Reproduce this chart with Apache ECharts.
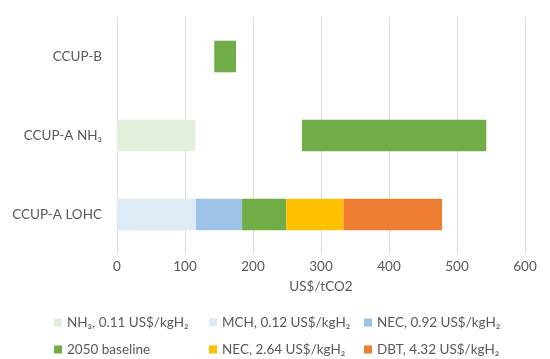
<!DOCTYPE html>
<html><head><meta charset="utf-8">
<script src="https://cdn.jsdelivr.net/npm/echarts@6/dist/echarts.min.js"></script>
<style>html,body{margin:0;padding:0;background:#fff}#c{width:550px;height:359px}</style>
</head><body><div id="c"></div>
<script>
const categories = ['CCUP-A LOHC', 'CCUP-A NH₃', 'CCUP-B'];
const xTicks = [0, 100, 200, 300, 400, 500, 600];
const nh3 = [0, 115, 0];
const mch = [116, 0, 0];
const nec092 = [68, 0, 0];
const gap = [0, 157, 143];
const baseline2050 = [65, 271, 32];
const nec264 = [84, 0, 0];
const dbt = [145, 0, 0];
const seriesNames = ['NH₃, 0.11 US$/kgH₂', 'MCH, 0.12 US$/kgH₂', 'NEC, 0.92 US$/kgH₂', '2050 baseline', 'NEC, 2.64 US$/kgH₂', 'DBT, 4.32 US$/kgH₂'];
const colors = ['#E2EFDA', '#DDEBF7', '#9DC3E6', '#70AD47', '#FFC000', '#ED7D31'];

const font = 'Lato, "Open Sans", sans-serif';
const chart = echarts.init(document.getElementById('c'));
function bar(name, data, color) {
  return { name, type: 'bar', stack: 's', data, barWidth: '40%', itemStyle: { color }, emphasis: { disabled: true } };
}
chart.setOption({
  animation: false,
  textStyle: { fontFamily: font },
  grid: { left: 117, right: 25, top: 17, bottom: 105 },
  xAxis: {
    type: 'value', min: xTicks[0], max: xTicks[xTicks.length - 1], interval: xTicks[1] - xTicks[0],
    axisLine: { show: false }, axisTick: { show: false },
    axisLabel: { color: '#595959', fontSize: 13.5, fontFamily: font, margin: 6 },
    splitLine: { lineStyle: { color: '#D9D9D9' } },
    name: 'US$/tCO2', nameLocation: 'middle', nameGap: 26,
    nameTextStyle: { color: '#595959', fontSize: 13.5, fontFamily: font }
  },
  yAxis: {
    type: 'category', data: categories,
    axisLine: { show: false }, axisTick: { show: false },
    axisLabel: { color: '#595959', fontSize: 13.5, fontFamily: font, margin: 15 }
  },
  legend: {
    left: 54, top: 314, width: 480, padding: 0, itemWidth: 8, itemHeight: 8, itemGap: 10,
    icon: 'rect',
    data: seriesNames,
    textStyle: { color: '#595959', fontSize: 13.5, fontFamily: font, width: 132, lineHeight: 17 }
  },
  series: [
    bar(seriesNames[0], nh3, colors[0]),
    bar(seriesNames[1], mch, colors[1]),
    bar(seriesNames[2], nec092, colors[2]),
    { name: 'gap', type: 'bar', stack: 's', data: gap, barWidth: '40%', itemStyle: { color: 'rgba(0,0,0,0)' }, emphasis: { disabled: true } },
    bar(seriesNames[3], baseline2050, colors[3]),
    bar(seriesNames[4], nec264, colors[4]),
    bar(seriesNames[5], dbt, colors[5])
  ]
});
</script></body></html>
